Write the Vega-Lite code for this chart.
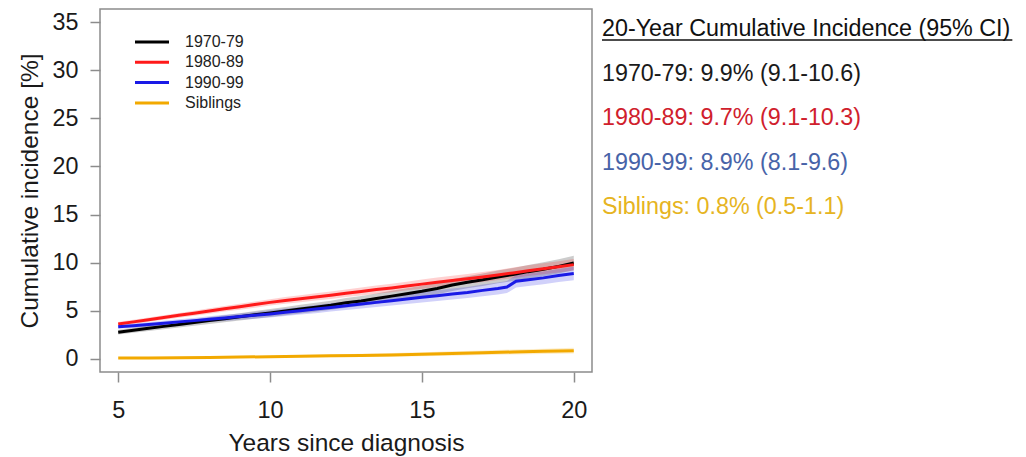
{
  "$schema": "https://vega.github.io/schema/vega-lite/v6.json",
  "padding": {"left": 16, "top": 8, "right": 0, "bottom": 0},
  "background": "white",
  "spacing": 8,
  "config": {
    "view": {"stroke": null},
    "font": "Liberation Sans",
    "axisX": {"domain": false, "grid": false, "tickSize": 10, "tickColor": "#8c8c8c", "tickWidth": 1.5, "labelFont": "Liberation Sans", "labelFontSize": 23.5, "labelColor": "#1a1a1a", "labelPadding": 16, "titleFont": "Liberation Sans", "titleFontSize": 24.5, "titleFontWeight": "normal", "titleColor": "#1a1a1a", "titlePadding": 10},
    "axisY": {"domain": false, "grid": false, "tickSize": 10, "tickColor": "#8c8c8c", "tickWidth": 1.5, "labelFont": "Liberation Sans", "labelFontSize": 23.3, "labelColor": "#1a1a1a", "labelPadding": 12, "titleFont": "Liberation Sans", "titleFontSize": 24.5, "titleFontWeight": "normal", "titleColor": "#1a1a1a", "titlePadding": 10}
  },
  "resolve": {"scale": {"color": "independent"}, "legend": {"color": "independent"}},
  "datasets": {
    "curves": [
      {"g":"1970-79","t":5.0,"v":2.75,"lo":2.50,"hi":3.00},
      {"g":"1970-79","t":5.5,"v":2.95,"lo":2.68,"hi":3.22},
      {"g":"1970-79","t":6.0,"v":3.15,"lo":2.87,"hi":3.43},
      {"g":"1970-79","t":6.5,"v":3.35,"lo":3.05,"hi":3.65},
      {"g":"1970-79","t":7.0,"v":3.55,"lo":3.23,"hi":3.87},
      {"g":"1970-79","t":7.5,"v":3.75,"lo":3.42,"hi":4.08},
      {"g":"1970-79","t":8.0,"v":3.95,"lo":3.60,"hi":4.30},
      {"g":"1970-79","t":8.5,"v":4.15,"lo":3.78,"hi":4.52},
      {"g":"1970-79","t":9.0,"v":4.35,"lo":3.97,"hi":4.73},
      {"g":"1970-79","t":9.5,"v":4.55,"lo":4.15,"hi":4.95},
      {"g":"1970-79","t":10.0,"v":4.75,"lo":4.33,"hi":5.17},
      {"g":"1970-79","t":10.5,"v":4.95,"lo":4.52,"hi":5.38},
      {"g":"1970-79","t":11.0,"v":5.15,"lo":4.70,"hi":5.60},
      {"g":"1970-79","t":11.5,"v":5.35,"lo":4.88,"hi":5.82},
      {"g":"1970-79","t":12.0,"v":5.55,"lo":5.07,"hi":6.03},
      {"g":"1970-79","t":12.5,"v":5.80,"lo":5.30,"hi":6.30},
      {"g":"1970-79","t":13.0,"v":6.00,"lo":5.48,"hi":6.52},
      {"g":"1970-79","t":13.5,"v":6.25,"lo":5.72,"hi":6.78},
      {"g":"1970-79","t":14.0,"v":6.50,"lo":5.95,"hi":7.05},
      {"g":"1970-79","t":14.5,"v":6.75,"lo":6.18,"hi":7.32},
      {"g":"1970-79","t":15.0,"v":7.00,"lo":6.42,"hi":7.58},
      {"g":"1970-79","t":15.5,"v":7.30,"lo":6.70,"hi":7.90},
      {"g":"1970-79","t":16.0,"v":7.65,"lo":7.03,"hi":8.27},
      {"g":"1970-79","t":16.5,"v":7.95,"lo":7.32,"hi":8.58},
      {"g":"1970-79","t":17.0,"v":8.20,"lo":7.55,"hi":8.85},
      {"g":"1970-79","t":17.5,"v":8.50,"lo":7.83,"hi":9.17},
      {"g":"1970-79","t":18.0,"v":8.75,"lo":8.07,"hi":9.43},
      {"g":"1970-79","t":18.5,"v":9.05,"lo":8.35,"hi":9.75},
      {"g":"1970-79","t":19.0,"v":9.30,"lo":8.58,"hi":10.02},
      {"g":"1970-79","t":19.5,"v":9.60,"lo":8.87,"hi":10.33},
      {"g":"1970-79","t":20.0,"v":9.95,"lo":9.20,"hi":10.70},
      {"g":"1980-89","t":5.0,"v":3.60,"lo":3.40,"hi":3.80},
      {"g":"1980-89","t":5.5,"v":3.82,"lo":3.61,"hi":4.03},
      {"g":"1980-89","t":6.0,"v":4.05,"lo":3.82,"hi":4.28},
      {"g":"1980-89","t":6.5,"v":4.28,"lo":4.04,"hi":4.52},
      {"g":"1980-89","t":7.0,"v":4.50,"lo":4.25,"hi":4.75},
      {"g":"1980-89","t":7.5,"v":4.72,"lo":4.45,"hi":4.99},
      {"g":"1980-89","t":8.0,"v":4.95,"lo":4.67,"hi":5.23},
      {"g":"1980-89","t":8.5,"v":5.18,"lo":4.89,"hi":5.47},
      {"g":"1980-89","t":9.0,"v":5.40,"lo":5.09,"hi":5.71},
      {"g":"1980-89","t":9.5,"v":5.62,"lo":5.30,"hi":5.94},
      {"g":"1980-89","t":10.0,"v":5.85,"lo":5.52,"hi":6.18},
      {"g":"1980-89","t":10.5,"v":6.05,"lo":5.70,"hi":6.40},
      {"g":"1980-89","t":11.0,"v":6.22,"lo":5.86,"hi":6.58},
      {"g":"1980-89","t":11.5,"v":6.42,"lo":6.05,"hi":6.79},
      {"g":"1980-89","t":12.0,"v":6.60,"lo":6.21,"hi":6.99},
      {"g":"1980-89","t":12.5,"v":6.80,"lo":6.40,"hi":7.20},
      {"g":"1980-89","t":13.0,"v":6.98,"lo":6.57,"hi":7.39},
      {"g":"1980-89","t":13.5,"v":7.18,"lo":6.75,"hi":7.61},
      {"g":"1980-89","t":14.0,"v":7.35,"lo":6.91,"hi":7.79},
      {"g":"1980-89","t":14.5,"v":7.55,"lo":7.10,"hi":8.00},
      {"g":"1980-89","t":15.0,"v":7.75,"lo":7.28,"hi":8.22},
      {"g":"1980-89","t":15.5,"v":7.95,"lo":7.47,"hi":8.43},
      {"g":"1980-89","t":16.0,"v":8.12,"lo":7.63,"hi":8.61},
      {"g":"1980-89","t":16.5,"v":8.30,"lo":7.79,"hi":8.81},
      {"g":"1980-89","t":17.0,"v":8.50,"lo":7.98,"hi":9.02},
      {"g":"1980-89","t":17.5,"v":8.70,"lo":8.17,"hi":9.23},
      {"g":"1980-89","t":18.0,"v":8.92,"lo":8.37,"hi":9.47},
      {"g":"1980-89","t":18.5,"v":9.15,"lo":8.59,"hi":9.71},
      {"g":"1980-89","t":19.0,"v":9.35,"lo":8.78,"hi":9.92},
      {"g":"1980-89","t":19.5,"v":9.55,"lo":8.96,"hi":10.14},
      {"g":"1980-89","t":20.0,"v":9.78,"lo":9.18,"hi":10.38},
      {"g":"1990-99","t":5.0,"v":3.30,"lo":3.10,"hi":3.50},
      {"g":"1990-99","t":5.5,"v":3.42,"lo":3.20,"hi":3.64},
      {"g":"1990-99","t":6.0,"v":3.55,"lo":3.32,"hi":3.78},
      {"g":"1990-99","t":6.5,"v":3.68,"lo":3.43,"hi":3.93},
      {"g":"1990-99","t":7.0,"v":3.82,"lo":3.55,"hi":4.09},
      {"g":"1990-99","t":7.5,"v":3.95,"lo":3.67,"hi":4.23},
      {"g":"1990-99","t":8.0,"v":4.10,"lo":3.80,"hi":4.40},
      {"g":"1990-99","t":8.5,"v":4.23,"lo":3.91,"hi":4.55},
      {"g":"1990-99","t":9.0,"v":4.37,"lo":4.04,"hi":4.70},
      {"g":"1990-99","t":9.5,"v":4.50,"lo":4.15,"hi":4.85},
      {"g":"1990-99","t":10.0,"v":4.65,"lo":4.28,"hi":5.02},
      {"g":"1990-99","t":10.5,"v":4.82,"lo":4.44,"hi":5.20},
      {"g":"1990-99","t":11.0,"v":4.98,"lo":4.58,"hi":5.38},
      {"g":"1990-99","t":11.5,"v":5.15,"lo":4.73,"hi":5.57},
      {"g":"1990-99","t":12.0,"v":5.32,"lo":4.89,"hi":5.75},
      {"g":"1990-99","t":12.5,"v":5.50,"lo":5.05,"hi":5.95},
      {"g":"1990-99","t":13.0,"v":5.68,"lo":5.21,"hi":6.15},
      {"g":"1990-99","t":13.5,"v":5.85,"lo":5.37,"hi":6.33},
      {"g":"1990-99","t":14.0,"v":6.02,"lo":5.52,"hi":6.52},
      {"g":"1990-99","t":14.5,"v":6.20,"lo":5.68,"hi":6.72},
      {"g":"1990-99","t":15.0,"v":6.38,"lo":5.85,"hi":6.91},
      {"g":"1990-99","t":15.5,"v":6.55,"lo":6.00,"hi":7.10},
      {"g":"1990-99","t":16.0,"v":6.72,"lo":6.15,"hi":7.29},
      {"g":"1990-99","t":16.5,"v":6.88,"lo":6.30,"hi":7.46},
      {"g":"1990-99","t":17.0,"v":7.10,"lo":6.50,"hi":7.70},
      {"g":"1990-99","t":17.5,"v":7.30,"lo":6.68,"hi":7.92},
      {"g":"1990-99","t":17.8,"v":7.45,"lo":6.82,"hi":8.08},
      {"g":"1990-99","t":18.1,"v":8.05,"lo":7.41,"hi":8.69},
      {"g":"1990-99","t":18.5,"v":8.20,"lo":7.55,"hi":8.85},
      {"g":"1990-99","t":19.0,"v":8.40,"lo":7.73,"hi":9.07},
      {"g":"1990-99","t":19.5,"v":8.65,"lo":7.97,"hi":9.33},
      {"g":"1990-99","t":20.0,"v":8.85,"lo":8.15,"hi":9.55},
      {"g":"Siblings","t":5,"v":0.05,"lo":0.03,"hi":0.07},
      {"g":"Siblings","t":6,"v":0.07,"lo":0.03,"hi":0.11},
      {"g":"Siblings","t":7,"v":0.09,"lo":0.03,"hi":0.15},
      {"g":"Siblings","t":8,"v":0.12,"lo":0.04,"hi":0.20},
      {"g":"Siblings","t":9,"v":0.15,"lo":0.06,"hi":0.24},
      {"g":"Siblings","t":10,"v":0.20,"lo":0.09,"hi":0.31},
      {"g":"Siblings","t":11,"v":0.24,"lo":0.11,"hi":0.37},
      {"g":"Siblings","t":12,"v":0.28,"lo":0.13,"hi":0.43},
      {"g":"Siblings","t":13,"v":0.32,"lo":0.15,"hi":0.49},
      {"g":"Siblings","t":14,"v":0.38,"lo":0.19,"hi":0.57},
      {"g":"Siblings","t":15,"v":0.45,"lo":0.24,"hi":0.66},
      {"g":"Siblings","t":16,"v":0.52,"lo":0.29,"hi":0.75},
      {"g":"Siblings","t":17,"v":0.60,"lo":0.36,"hi":0.84},
      {"g":"Siblings","t":18,"v":0.68,"lo":0.42,"hi":0.94},
      {"g":"Siblings","t":19,"v":0.75,"lo":0.47,"hi":1.03},
      {"g":"Siblings","t":20,"v":0.82,"lo":0.52,"hi":1.12}
    ],
    "summary": [
      {"row": 0, "who": "head", "label": "20-Year Cumulative Incidence (95% CI)"},
      {"row": 1, "who": "1970-79", "label": "1970-79: 9.9% (9.1-10.6)"},
      {"row": 2, "who": "1980-89", "label": "1980-89: 9.7% (9.1-10.3)"},
      {"row": 3, "who": "1990-99", "label": "1990-99: 8.9% (8.1-9.6)"},
      {"row": 4, "who": "Siblings", "label": "Siblings: 0.8% (0.5-1.1)"}
    ]
  },
  "hconcat": [
    {
      "width": 492,
      "height": 363,
      "view": {"stroke": "#8c8c8c", "strokeWidth": 1.5},
      "data": {"name": "curves"},
      "layer": [
        {
          "mark": {"type": "area", "opacity": 0.2},
          "encoding": {
            "x": {"field": "t", "type": "quantitative", "scale": {"domain": [4.4, 20.6], "nice": false, "zero": false}, "axis": {"values": [5, 10, 15, 20]}, "title": "Years since diagnosis"},
            "y": {"field": "lo", "type": "quantitative", "scale": {"domain": [-1.4, 36.4], "nice": false, "zero": false}, "axis": {"values": [0, 5, 10, 15, 20, 25, 30, 35]}, "title": "Cumulative incidence [%]"},
            "y2": {"field": "hi"},
            "color": {"field": "g", "type": "nominal", "scale": {"domain": ["1970-79", "1980-89", "1990-99", "Siblings"], "range": ["#000000", "#ff1a1a", "#1a1ae6", "#f2a900"]},
              "legend": {"title": null, "orient": "none", "legendX": 42, "legendY": 23, "symbolType": "M-2,0H2", "symbolSize": 289, "symbolStrokeWidth": 3, "symbolOpacity": 1, "labelFont": "Liberation Sans", "labelFontSize": 16, "labelColor": "#222222", "labelOffset": 23, "rowPadding": 2.3}}
          }
        },
        {
          "mark": {"type": "line", "strokeWidth": 3},
          "encoding": {
            "x": {"field": "t", "type": "quantitative", "scale": {"domain": [4.4, 20.6], "nice": false, "zero": false}, "axis": {"values": [5, 10, 15, 20]}, "title": "Years since diagnosis"},
            "y": {"field": "v", "type": "quantitative", "scale": {"domain": [-1.4, 36.4], "nice": false, "zero": false}, "axis": {"values": [0, 5, 10, 15, 20, 25, 30, 35]}, "title": "Cumulative incidence [%]"},
            "color": {"field": "g", "type": "nominal", "scale": {"domain": ["1970-79", "1980-89", "1990-99", "Siblings"], "range": ["#000000", "#ff1a1a", "#1a1ae6", "#f2a900"]},
              "legend": {"title": null, "orient": "none", "legendX": 42, "legendY": 23, "symbolType": "M-2,0H2", "symbolSize": 289, "symbolStrokeWidth": 3, "symbolOpacity": 1, "labelFont": "Liberation Sans", "labelFontSize": 16, "labelColor": "#222222", "labelOffset": 23, "rowPadding": 2.3}}
          }
        }
      ]
    },
    {
      "width": 420,
      "height": 363,
      "data": {"name": "summary"},
      "encoding": {
        "y": {"field": "row", "type": "ordinal", "scale": {"type": "point", "range": [27, 205], "padding": 0}, "axis": null}
      },
      "layer": [
        {
          "mark": {"type": "text", "align": "left", "baseline": "alphabetic", "font": "Liberation Sans", "fontSize": 23.3},
          "encoding": {
            "x": {"datum": 0, "type": "quantitative", "scale": {"domain": [0, 1]}, "axis": null},
            "text": {"field": "label"},
            "color": {"field": "who", "type": "nominal", "scale": {"domain": ["head", "1970-79", "1980-89", "1990-99", "Siblings"], "range": ["#111111", "#1a1a1a", "#d0202c", "#4763a8", "#e6b422"]}, "legend": null}
          }
        },
        {
          "transform": [{"filter": "datum.row == 0"}],
          "mark": {"type": "rule", "strokeWidth": 1.5, "color": "#111111", "yOffset": 4},
          "encoding": {
            "x": {"datum": 0, "type": "quantitative", "scale": {"domain": [0, 1]}, "axis": null},
            "x2": {"datum": 0.977}
          }
        }
      ]
    }
  ]
}
